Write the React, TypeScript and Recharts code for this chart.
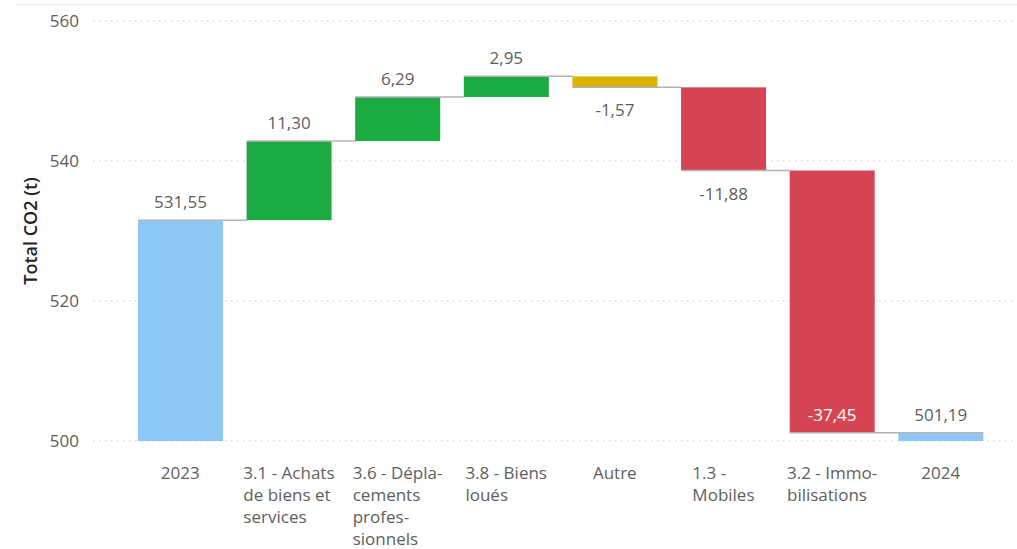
import React from "react";
import { BarChart, Bar, XAxis, YAxis, CartesianGrid, Label } from "recharts";

const categories = [
  "2023",
  "3.1 - Achats de biens et services",
  "3.6 - Déplacements professionnels",
  "3.8 - Biens loués",
  "Autre",
  "1.3 - Mobiles",
  "3.2 - Immobilisations",
  "2024",
];
const tickLines: string[][] = [
  ["2023"],
  ["3.1 - Achats", "de biens et", "services"],
  ["3.6 - Dépla-", "cements", "profes-", "sionnels"],
  ["3.8 - Biens", "loués"],
  ["Autre"],
  ["1.3 -", "Mobiles"],
  ["3.2 - Immo-", "bilisations"],
  ["2024"],
];
const values = [531.55, 11.3, 6.29, 2.95, -1.57, -11.88, -37.45, 501.19];
const kinds = ["total", "increase", "increase", "increase", "other", "decrease", "decrease", "total"];
const yTicks = [500, 520, 540, 560];
const Y_MIN = 500;
const Y_MAX = 560;

const COLORS: Record<string, string> = {
  total: "#8CC7F5",
  increase: "#1CAA43",
  decrease: "#D64453",
  other: "#DAB400",
};
const FONT = "'Segoe UI', 'Open Sans', sans-serif";
const TEXT = "#605E5C";
const CAT_GAP = 0.11;

type Row = { name: string; range: [number, number]; value: number; kind: string; isLast: boolean };
const data: Row[] = (() => {
  let running = 0;
  return categories.map((name, i) => {
    const v = values[i];
    const kind = kinds[i];
    let range: [number, number];
    if (kind === "total") {
      range = [Y_MIN, v];
      running = v;
    } else {
      const start = running;
      running = start + v;
      range = [Math.min(start, running), Math.max(start, running)];
    }
    return { name, range, value: v, kind, isLast: i === categories.length - 1 };
  });
})();

const fmt = (v: number) => v.toFixed(2).replace(".", ",");

const WaterfallShape = (props: any) => {
  const { x, y, width, height, payload, background } = props;
  const top = Math.min(y, y + height);
  const bottom = Math.max(y, y + height);
  const h = Math.abs(height);
  const d: Row = payload;
  const isDown = d.kind === "decrease" || d.kind === "other";
  const endY = isDown ? bottom : top;
  const band = width / (1 - 2 * CAT_GAP);
  const lineEnd = d.isLast ? x + width : x + band;
  const plotBottom = background ? background.y + background.height : bottom + 100;
  let labelY: number;
  let labelColor = TEXT;
  if (isDown) {
    if (bottom + 36 > plotBottom) {
      labelY = bottom - 12;
      labelColor = "#FFFFFF";
    } else {
      labelY = bottom + 29;
    }
  } else {
    labelY = top - 12;
  }
  return (
    <g>
      <rect x={x} y={top} width={width} height={h} fill={COLORS[d.kind]} />
      <line x1={x} x2={lineEnd} y1={endY} y2={endY} stroke="#B3B3B3" strokeWidth={1.5} />
      <text
        x={x + width / 2}
        y={labelY}
        textAnchor="middle"
        fill={labelColor}
        fontSize={17}
        fontFamily={FONT}
      >
        {fmt(d.value)}
      </text>
    </g>
  );
};

const CategoryTick = (props: any) => {
  const { x, y, payload } = props;
  const lines = tickLines[payload.index] || [String(payload.value)];
  const w = 130;
  return (
    <foreignObject x={x - w / 2} y={y + 21} width={w} height={87}>
      <div style={{ display: "flex", justifyContent: "center" }}>
        <div
          style={{
            textAlign: "left",
            lineHeight: "22px",
            fontSize: 17,
            color: TEXT,
            fontFamily: FONT,
            whiteSpace: "nowrap",
          }}
        >
          {lines.map((l, i) => (
            <div key={i}>{l}</div>
          ))}
        </div>
      </div>
    </foreignObject>
  );
};

const YTitle = (props: any) => {
  const vb = props.viewBox || { x: 0, y: 0, height: 0 };
  const cx = 30;
  const cy = vb.y + vb.height / 2;
  return (
    <text
      x={cx}
      y={cy}
      transform={`rotate(-90, ${cx}, ${cy})`}
      textAnchor="middle"
      dominantBaseline="central"
      fontSize={18}
      fontWeight={600}
      fill="#252423"
      fontFamily={FONT}
    >
      Total CO2 (t)
    </text>
  );
};

export default function App() {
  return (
    <div style={{ position: "absolute", left: 0, top: 0, width: 1017, height: 549, background: "#fff" }}>
      <div style={{ position: "absolute", left: 16, right: 0, top: 4, height: 1, background: "#E8E8E8" }} />
      <BarChart
        width={1017}
        height={549}
        data={data}
        margin={{ top: 21, right: 2, bottom: 0, left: 0 }}
        barCategoryGap={`${CAT_GAP * 100}%`}
      >
        <CartesianGrid vertical={false} stroke="#C8C8C8" strokeDasharray="1.5 4.5" />
        <XAxis
          dataKey="name"
          axisLine={false}
          tickLine={false}
          tickSize={0}
          tickMargin={0}
          height={108}
          padding={{ left: 33, right: 20 }}
          interval={0}
          tick={<CategoryTick />}
        />
        <YAxis
          domain={[Y_MIN, Y_MAX]}
          ticks={yTicks}
          axisLine={false}
          tickLine={false}
          tickSize={0}
          tickMargin={14}
          width={93}
          tick={{ fill: TEXT, fontSize: 17, fontFamily: FONT }}
        >
          <Label content={<YTitle />} />
        </YAxis>
        <Bar dataKey="range" shape={<WaterfallShape />} isAnimationActive={false} />
      </BarChart>
    </div>
  );
}
